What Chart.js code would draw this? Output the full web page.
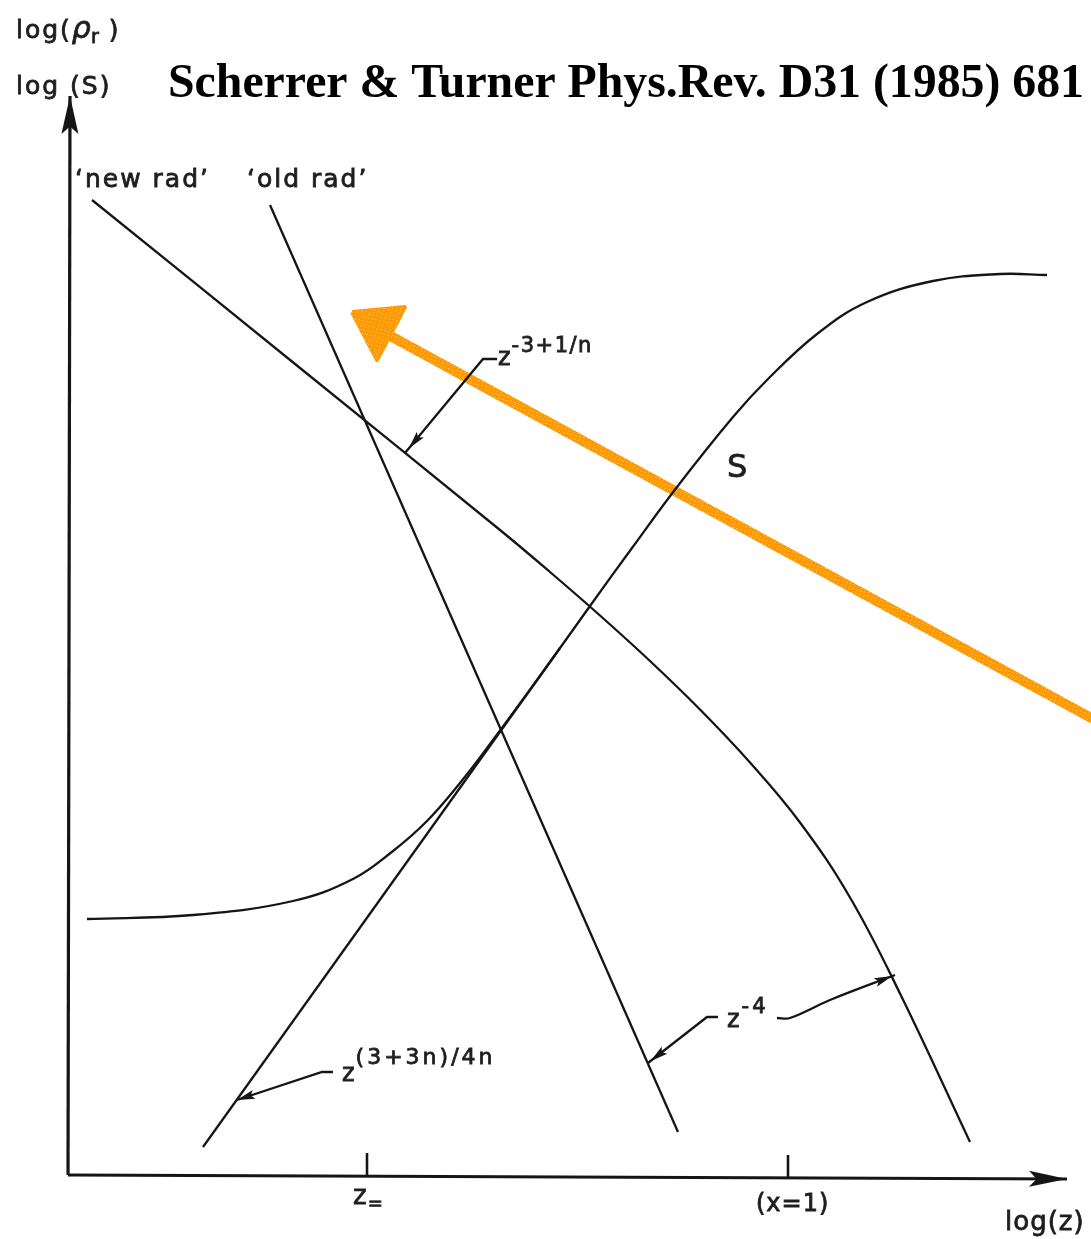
<!DOCTYPE html>
<html>
<head>
<meta charset="utf-8">
<script src="https://cdn.jsdelivr.net/npm/chart.js@4.4.1/dist/chart.umd.min.js"></script>
<style>
  html, body { margin: 0; padding: 0; background: #fff; }
  #wrap { width: 1091px; height: 1239px; position: relative; }
</style>
</head>
<body>
<div id="wrap"><canvas id="sketch"></canvas></div>
<script>
// sketch units: x = log(z), y = log(rho_r) / log(S), origin at the axes corner
const newRadX = [2.4, 23.2, 43.2, 48.2, 53.2, 58.2, 63.2, 68.2, 73.2, 78.2, 83.2, 90.2];
const newRadY = [97.5, 80.7, 64.5, 60.3, 55.95, 51.4, 46.55, 41.25, 35.25, 27.75, 18.15, 3.3];
const oldRadX = [20.2, 61.0];
const oldRadY = [97.0, 4.3];
const entropyX = [1.9, 12.5, 22.5, 28.5, 32.5, 35.9, 39.2, 42.5, 47.2, 52.2, 56.4, 60.9, 66.5, 69.9, 74.9, 79.9, 86.5, 93.2, 97.9];
const entropyY = [25.6, 26.0, 27.4, 29.6, 32.4, 35.4, 39.2, 43.5, 49.9, 56.9, 62.7, 68.8, 75.8, 79.5, 84.1, 87.3, 89.4, 90.1, 90.0];
const powerLawX = [13.5, 49.2];
const powerLawY = [2.8, 52.7];

// axes and the two marked points on log(z)
const axisXx = [0, 99.9];
const axisXy = [0, -0.4];
const axisYx = [0, 0.2];
const axisYy = [0, 107.9];
const tickPos = [29.9, 72.0];
const tickLabels = ['z', '(x=1)'];

// leader lines for the slope labels (tip of the arrow comes last)
const leadNewX = [42.9, 41.5, 33.7];
const leadNewY = [81.6, 81.6, 72.2];
const leadRiseX = [26.5, 25.4, 16.9];
const leadRiseY = [10.3, 10.3, 7.5];
const leadOldX = [65.0, 63.9, 58.0];
const leadOldY = [15.8, 15.8, 11.2];
const leadBendX = [70.9, 72.2, 76.2, 82.7];
const leadBendY = [15.7, 15.7, 17.5, 20.0];

// orange pointer drawn over the figure
const pointerX = [102.7, 31.7];
const pointerY = [45.5, 84.2];
const pointerHeadX = [28.4, 33.7, 30.9, 28.4];
const pointerHeadY = [86.3, 86.8, 81.5, 86.3];

const pts = (xs, ys) => xs.map((x, i) => ({ x, y: ys[i] }));

const INK = '#151515';
const ORANGE = '#ff9900';
const SANS = '"DejaVu Sans", sans-serif';

// grainy crayon fill for the orange pointer
function crayon() {
  const c = document.createElement('canvas');
  c.width = 17; c.height = 13;
  const g = c.getContext('2d');
  g.fillStyle = ORANGE;
  g.fillRect(0, 0, c.width, c.height);
  g.fillStyle = '#ffbb55';
  for (let i = 0; i < c.width; i++) {
    for (let j = 0; j < c.height; j++) {
      if ((i * 7 + j * 11) % 13 === 0 || (i * 3 + j * 5) % 17 === 4) g.fillRect(i, j, 1, 1);
    }
  }
  return g.createPattern(c, 'repeat');
}
const orangeFill = crayon();

function line(data, extra) {
  return Object.assign({
    data, showLine: true, borderColor: INK, backgroundColor: INK,
    borderWidth: 2.3, pointRadius: 0, tension: 0, fill: false
  }, extra || {});
}

const datasets = [
  line(pts(axisXx, axisXy), { borderWidth: 3.2, head: { at: 'end', len: 38, width: 16 } }),
  line(pts(axisYx, axisYy), { borderWidth: 3.2, head: { at: 'end', len: 38, width: 17 } }),
  line(pts([tickPos[0], tickPos[0]], [0, 2.2]), { borderWidth: 2.6 }),
  line(pts([tickPos[1], tickPos[1]], [-0.3, 2.0]), { borderWidth: 2.6 }),
  line(pts(newRadX, newRadY), { tension: 0.4 }),
  line(pts(oldRadX, oldRadY)),
  line(pts(entropyX, entropyY), { tension: 0.4 }),
  line(pts(powerLawX, powerLawY)),
  line(pts(leadNewX, leadNewY), { head: { at: 'end', len: 18, width: 9, back: 6 } }),
  line(pts(leadRiseX, leadRiseY), { head: { at: 'end', len: 18, width: 9 } }),
  line(pts(leadOldX, leadOldY), { head: { at: 'end', len: 18, width: 9, back: 3 } }),
  line(pts(leadBendX, leadBendY), { tension: 0.35, head: { at: 'end', len: 18, width: 9, back: 3 } }),
  line(pts(pointerX, pointerY), { borderColor: orangeFill, borderWidth: 10, borderCapStyle: 'round' }),
  line(pts(pointerHeadX, pointerHeadY), { borderColor: orangeFill, backgroundColor: orangeFill, borderWidth: 4, borderJoinStyle: 'round', fill: 'shape' })
];

// text runs: [text, size, baseline shift, letter spacing, style]
const texts = [
  { x: -5.2, y: 113.7, runs: [['log(', 25, 0, 2], ['ρ', 30, 0, 0, 'italic '], ['r', 19, 5, 0], [' )', 25, 0, 2]] },
  { x: -5.2, y: 108.1, runs: [['log (S)', 25, 0, 2]] },
  { x: 0.7, y: 98.8, runs: [['‘new rad’', 25, 0, 2]] },
  { x: 17.9, y: 98.8, runs: [['‘old rad’', 25, 0, 2]] },
  { x: 65.9, y: 69.8, runs: [['S', 32, 0, 0]] },
  { x: 43.0, y: 81.0, runs: [['z', 24, 0, 1], ['-3+1/n', 21, -13, 1.5]] },
  { x: 27.4, y: 9.4, runs: [['z', 24, 0, 1], ['(3+3n)/4n', 22, -17, 3]] },
  { x: 65.9, y: 14.8, runs: [['z', 24, 0, 2], ['-4', 21, -14, 3]] },
  { x: tickPos[0] - 1.4, y: -2.9, runs: [[tickLabels[0], 26, 0, 1], ['=', 18, 5, 0]] },
  { x: tickPos[1] - 3.2, y: -3.6, runs: [[tickLabels[1], 24, 0, 1]] },
  { x: 93.7, y: -5.5, runs: [['log(z)', 26, 0, 1]] }
];
const title = { x: 10.0, y: 107.8, text: 'Scherrer & Turner Phys.Rev. D31 (1985) 681', width: 917 };

const arrowHeads = {
  id: 'arrowHeads',
  afterDatasetsDraw(chart) {
    const ctx = chart.ctx;
    chart.data.datasets.forEach((ds, i) => {
      if (!ds.head) return;
      const p = chart.getDatasetMeta(i).data;
      const n = p.length;
      const end = ds.head.at === 'end' ? p[n - 1] : p[0];
      const from = ds.head.at === 'end' ? p[n - 2] : p[1];
      const a = Math.atan2(end.y - from.y, end.x - from.x);
      const back = ds.head.back || 0;
      const tx = end.x - back * Math.cos(a), ty = end.y - back * Math.sin(a);
      const L = ds.head.len, W = ds.head.width / 2;
      ctx.save();
      ctx.fillStyle = ds.borderColor;
      ctx.beginPath();
      ctx.moveTo(tx, ty);
      ctx.lineTo(tx - L * Math.cos(a) + W * Math.sin(a), ty - L * Math.sin(a) - W * Math.cos(a));
      ctx.lineTo(tx - L * 0.8 * Math.cos(a), ty - L * 0.8 * Math.sin(a));
      ctx.lineTo(tx - L * Math.cos(a) - W * Math.sin(a), ty - L * Math.sin(a) + W * Math.cos(a));
      ctx.closePath();
      ctx.fill();
      ctx.restore();
    });
  }
};

const sketchText = {
  id: 'sketchText',
  afterDraw(chart) {
    const ctx = chart.ctx, sx = chart.scales.x, sy = chart.scales.y;
    ctx.save();
    ctx.textBaseline = 'alphabetic';
    ctx.fillStyle = '#1e1e1e';
    ctx.strokeStyle = '#1e1e1e';
    ctx.lineWidth = 0.8;
    texts.forEach(t => {
      let px = sx.getPixelForValue(t.x);
      const py = sy.getPixelForValue(t.y);
      t.runs.forEach(([s, size, dy, spacing, style]) => {
        ctx.font = (style || '') + size + 'px ' + SANS;
        ctx.letterSpacing = (spacing || 0) + 'px';
        ctx.fillText(s, px, py + dy);
        ctx.strokeText(s, px, py + dy);
        px += ctx.measureText(s).width;
      });
    });
    ctx.letterSpacing = '0px';
    // paper reference across the top
    ctx.fillStyle = '#000';
    let size = 47;
    ctx.font = 'bold ' + size + 'px "Liberation Serif", "Times New Roman", serif';
    size = size * title.width / ctx.measureText(title.text).width;
    ctx.font = 'bold ' + size.toFixed(1) + 'px "Liberation Serif", "Times New Roman", serif';
    ctx.fillText(title.text, sx.getPixelForValue(title.x), sy.getPixelForValue(title.y));
    ctx.restore();
  }
};

new Chart(document.getElementById('sketch'), {
  type: 'scatter',
  data: { datasets },
  options: {
    responsive: true,
    maintainAspectRatio: false,
    animation: false,
    layout: { padding: 0 },
    plugins: { legend: { display: false }, tooltip: { enabled: false } },
    scales: {
      x: { type: 'linear', display: false, min: -6.8, max: 102.3 },
      y: { type: 'linear', display: false, min: -6.4, max: 117.5 }
    }
  },
  plugins: [arrowHeads, sketchText]
});
</script>
</body>
</html>
